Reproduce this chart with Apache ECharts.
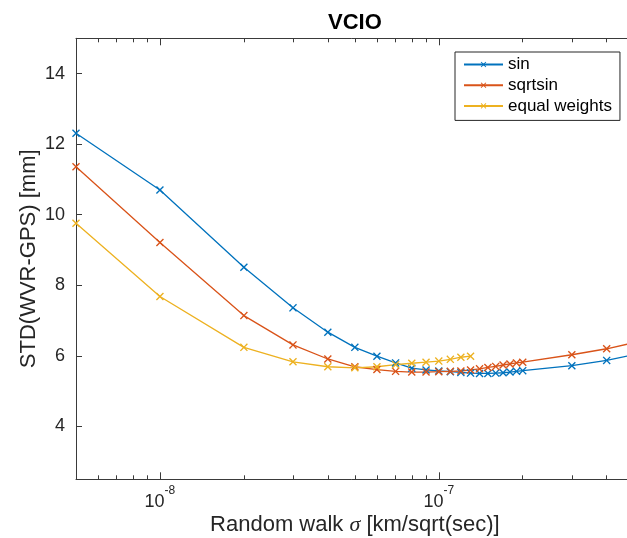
<!DOCTYPE html>
<html><head><meta charset="utf-8">
<script src="https://cdn.jsdelivr.net/npm/echarts@6/dist/echarts.min.js"></script>
<style>html,body{margin:0;padding:0;background:#fff}#c{width:627px;height:538px}</style>
</head><body><div id="c"></div>
<script>
// ---- data ----
const sigmaAll = [5e-9,1e-8,2e-8,3e-8,4e-8,5e-8,6e-8,7e-8,8e-8,9e-8,1e-7,1.1e-7,1.2e-7,1.3e-7,1.4e-7,1.5e-7,1.6e-7,1.7e-7,1.8e-7,1.9e-7,2e-7,3e-7,4e-7,5e-7];
const sinVals = [12.31,10.70,8.51,7.36,6.67,6.24,5.99,5.80,5.65,5.60,5.57,5.55,5.53,5.51,5.50,5.50,5.51,5.52,5.54,5.56,5.58,5.72,5.87,6.03];
const sqrtsinVals = [11.36,9.21,7.14,6.31,5.91,5.69,5.61,5.56,5.54,5.54,5.55,5.56,5.57,5.60,5.63,5.67,5.70,5.74,5.77,5.80,5.82,6.03,6.20,6.37];
const sigmaEqual = [5e-9,1e-8,2e-8,3e-8,4e-8,5e-8,6e-8,7e-8,8e-8,9e-8,1e-7,1.1e-7,1.2e-7,1.3e-7];
const equalVals = [9.76,7.68,6.24,5.83,5.69,5.66,5.69,5.75,5.79,5.82,5.85,5.90,5.96,5.99];
const seriesNames = ['sin','sqrtsin','equal weights'];
const yTicks = [4,6,8,10,12,14];
const xMajorTicks = [1e-8,1e-7];
const xMinorTicks = [6e-9,7e-9,8e-9,9e-9,2e-8,3e-8,4e-8,5e-8,6e-8,7e-8,8e-8,9e-8,2e-7,3e-7,4e-7];
const xMin = 5e-9, xMax = 5e-7, yMin = 2.5, yMax = 15;

// ---- chart ----
const L = v => Math.log10(v);
const colors = ['#0072BD','#D95319','#EDB120'];
const FONT = '"Liberation Sans", Arial, Helvetica, sans-serif';
const TXT = '#262626';
const AX = '#3a3a3a';
const X_SYM = 'path://M0,1.2L1.2,0L5,3.8L8.8,0L10,1.2L6.2,5L10,8.8L8.8,10L5,6.2L1.2,10L0,8.8L3.8,5Z';

function pairs(xs, ys){ return xs.map((x,i)=>[L(x), ys[i]]); }

function xAxisBase(pos, ticks, len, showLine){
  return {
    type:'value', position:pos, min:L(xMin), max:L(xMax),
    axisLine:{show:showLine, onZero:false, lineStyle:{color:AX, width:1}},
    axisTick:{show:true, inside:true, length:len, customValues:ticks.map(L), lineStyle:{color:AX, width:1}},
    axisLabel:{show:false}, splitLine:{show:false}
  };
}

const mainX = xAxisBase('bottom', xMajorTicks, 7, true);
mainX.axisLabel = {
  show:true, customValues: xMajorTicks.map(L), margin:5,
  formatter: v => '{b|10}{s|' + Math.round(v) + '}',
  rich:{
    b:{fontFamily:FONT, fontSize:18, color:TXT, lineHeight:27, verticalAlign:'bottom'},
    s:{fontFamily:FONT, fontSize:12, color:TXT, lineHeight:27, verticalAlign:'top'}
  }
};
mainX.name = 'Random walk {i|σ} [km/sqrt(sec)]';
mainX.nameLocation = 'middle';
mainX.nameGap = 35;
mainX.nameMoveOverlap = false;
mainX.nameTextStyle = {fontFamily:FONT, fontSize:22, color:TXT,
  rich:{i:{fontFamily:'"Liberation Serif","DejaVu Serif",serif', fontStyle:'italic', fontSize:22, color:TXT}}};

const option = {
  animation:false,
  backgroundColor:'#fff',
  title:{text:'VCIO', left:354.9, top:12, textAlign:'center', padding:0,
    textStyle:{fontFamily:FONT, fontSize:22, fontWeight:'bold', color:'#000'}},
  legend:{
    orient:'vertical', left:455, top:52, data:seriesNames,
    backgroundColor:'#fff', borderColor:'#262626', borderWidth:1,
    padding:[4,8,6,8], itemWidth:39, itemHeight:7, itemGap:3.7,
    textStyle:{fontFamily:FONT, fontSize:17, color:'#000', lineHeight:16}
  },
  grid:{left:76, right:-6.7, top:38.3, bottom:58.7, containLabel:false, outerBoundsMode:'none'},
  xAxis:[
    mainX,
    xAxisBase('bottom', xMinorTicks, 4, false),
    xAxisBase('top', xMajorTicks, 7, true),
    xAxisBase('top', xMinorTicks, 4, false)
  ],
  yAxis:[
    {type:'value', position:'left', min:yMin, max:yMax,
     axisLine:{show:true, lineStyle:{color:AX, width:1}},
     axisTick:{show:true, inside:true, length:6, customValues:yTicks, lineStyle:{color:AX}},
     axisLabel:{customValues:yTicks, margin:11, fontFamily:FONT, fontSize:18, color:TXT},
     splitLine:{show:false},
     name:'STD(WVR-GPS) [mm]', nameLocation:'middle', nameGap:36, nameRotate:90, nameMoveOverlap:false,
     nameTextStyle:{fontFamily:FONT, fontSize:22, color:TXT}},
    {type:'value', position:'right', min:yMin, max:yMax,
     axisLine:{show:true, lineStyle:{color:AX, width:1}},
     axisTick:{show:true, inside:true, length:6, customValues:yTicks, lineStyle:{color:AX}},
     axisLabel:{show:false}, splitLine:{show:false}}
  ],
  series:[
    {name:seriesNames[0], data:pairs(sigmaAll, sinVals)},
    {name:seriesNames[1], data:pairs(sigmaAll, sqrtsinVals)},
    {name:seriesNames[2], data:pairs(sigmaEqual, equalVals)}
  ].map((s,i)=>Object.assign({
    type:'line', xAxisIndex:0, yAxisIndex:0,
    symbol:X_SYM, symbolSize:8, showSymbol:true, showAllSymbol:true,
    lineStyle:{color:colors[i], width:1.3},
    itemStyle:{color:colors[i]},
    emphasis:{disabled:true}, silent:true
  }, s))
};

const chart = echarts.init(document.getElementById('c'), null, {renderer:'canvas'});
chart.setOption(option);
</script>
</body></html>
